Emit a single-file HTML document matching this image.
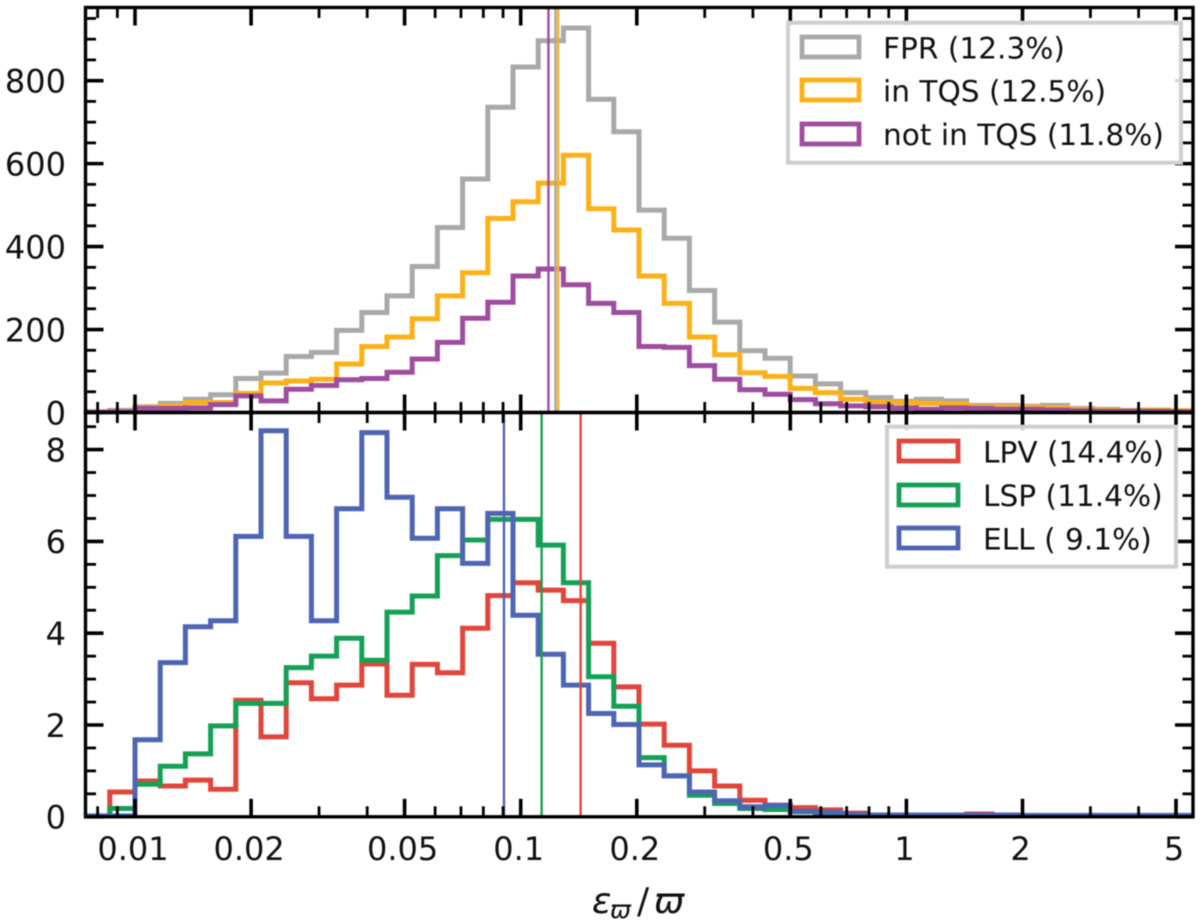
<!DOCTYPE html>
<html lang="en">
<head>
<meta charset="utf-8">
<title>Parallax error histograms</title>
<style>
html,body{margin:0;padding:0;background:#fff;width:1200px;height:924px;overflow:hidden}
svg{display:block;filter:blur(.5px)}
text{font-family:"DejaVu Sans","Liberation Sans",sans-serif;fill:#111;white-space:pre}
</style>
</head>
<body>
<svg id="chart" xmlns="http://www.w3.org/2000/svg" width="1200" height="924" viewBox="0 0 1200 924"></svg>
<script>
// ---- data ----
const fprCounts = [2,5,14,22,32,43,82,95,135,145,198,241,281,352,446,563,736,833,896,927,755,677,488,420,294,218,149,131,88,69,48,36,27,32,28,17,17,15,17,10,8,5,6,4];
const inTqsCounts = [1,2,12,16,24,24,46,71,76,80,117,159,182,226,281,337,468,508,553,620,491,440,329,263,182,139,96,87,58,48,32,25,24,22,21,14,14,13,11,8,6,4,6,4];
const notInTqsCounts = [1,2,10,10,11,19,40,28,56,65,79,82,97,129,169,227,266,329,346,308,263,241,159,157,113,80,55,44,31,21,16,14,11,8,11,10,8,8,6,4,3,3,3,2];
const lpvDensity = [0,0.54,0.78,0.67,0.80,0.60,2.54,1.74,2.92,2.57,2.87,3.33,2.65,3.32,3.14,4.11,4.82,5.10,4.94,4.71,3.78,2.83,2.02,1.56,1.00,0.67,0.36,0.25,0.20,0.15,0.08,0.04,0.03,0.03,0.03,0.06,0.01,0.01,0.01,0.01,0.01,0.01,0.01,0.01];
const lspDensity = [0,0.18,0.71,1.10,1.37,1.98,2.47,2.47,3.25,3.50,3.89,3.41,4.46,4.81,5.69,6.03,6.48,6.48,5.92,5.10,3.05,2.41,1.29,0.89,0.47,0.29,0.18,0.16,0.11,0.07,0.04,0.03,0.02,0.02,0.02,0.01,0.01,0.01,0.01,0.01,0.01,0.01,0.01,0.01];
const ellDensity = [0.02,0.02,1.68,3.36,4.14,4.27,6.11,8.41,6.11,4.27,6.71,8.37,6.96,6.07,6.71,5.52,6.61,4.39,3.54,2.87,2.25,2.01,1.13,0.89,0.54,0.35,0.22,0.25,0.12,0.10,0.05,0.04,0.04,0.04,0.04,0.04,0.04,0.03,0.03,0.03,0.03,0.03,0.03,0.03];
const topMedians = [0.123,0.125,0.118];
const bottomMedians = [0.143,0.1133,0.0905];
const xMajorTicks = [0.01,0.02,0.05,0.1,0.2,0.5,1,2,5];
const xMajorLabels = ["0.01","0.02","0.05","0.1","0.2","0.5","1","2","5"];
const xMinorTicks = [0.008,0.009,0.03,0.04,0.06,0.07,0.08,0.09,0.3,0.4,0.6,0.7,0.8,0.9,3,4];
const topYMajor = [0,200,400,600,800];
const topYMinor = [50,100,150,250,300,350,450,500,550,650,700,750,850,900,950];
const bottomYMajor = [0,2,4,6,8];
const bottomYMinor = [0.5,1,1.5,2.5,3,3.5,4.5,5,5.5,6.5,7,7.5,8.5];
const topLegendLabels = ["FPR (12.3%)","in TQS (12.5%)","not in TQS (11.8%)"];
const bottomLegendLabels = ["LPV (14.4%)","LSP (11.4%)","ELL ( 9.1%)"];

// ---- layout ----
const svg = document.getElementById('chart');
const NS = 'http://www.w3.org/2000/svg';
const L = 85.5, R = 1193, T = 7.5, M = 412.5, B = 816.8;
const GREY = '#a9a9a9', ORANGE = '#fbb117', PURPLE = '#9f4d9f', RED = '#e2453a', GREEN = '#15a155', BLUE = '#4e65b3';
function xs(v){ return 135 + 385.7 * Math.log10(v / 0.01); }
function yTop(v){ return M - v * 0.4148; }
function yBot(v){ return B - v * 45.9; }
function binEdge(n){ return Math.pow(10, -2 + (n - 2) * 0.06534); }
function make(tag, attrs, parent){
  const e = document.createElementNS(NS, tag);
  for (const k in attrs) e.setAttribute(k, attrs[k]);
  (parent || svg).appendChild(e);
  return e;
}
function stepPath(vals, y){
  let d = 'M' + xs(binEdge(0)).toFixed(1) + ' ' + y(0).toFixed(1);
  vals.forEach(function(v, i){
    d += 'L' + xs(binEdge(i)).toFixed(1) + ' ' + y(v).toFixed(1);
    d += 'L' + xs(binEdge(i + 1)).toFixed(1) + ' ' + y(v).toFixed(1);
  });
  d += 'L' + xs(binEdge(vals.length)).toFixed(1) + ' ' + y(0).toFixed(1);
  return d;
}

const defs = make('defs', {});
const clipT = make('clipPath', {id:'clip-top'}, defs);
make('rect', {x:L, y:T, width:R-L, height:M-T}, clipT);
const clipB = make('clipPath', {id:'clip-bottom'}, defs);
make('rect', {x:L, y:M, width:R-L, height:B-M}, clipB);

// ---- series ----
function drawHist(vals, y, color, clip, name){
  const p = make('path', {d:stepPath(vals, y), fill:'none', stroke:color, 'stroke-width':5, 'stroke-linejoin':'miter', 'clip-path':'url(#'+clip+')'});
  
  
}
function drawMedian(v, y0, y1, color, clip, name){
  const l = make('line', {x1:xs(v), x2:xs(v), y1:y0, y2:y1, stroke:color, 'stroke-width':2.4, 'clip-path':'url(#'+clip+')'});
  
  
}
drawHist(fprCounts, yTop, GREY, 'clip-top', 'fpr-histogram');
drawHist(inTqsCounts, yTop, ORANGE, 'clip-top', 'in-tqs-histogram');
drawHist(notInTqsCounts, yTop, PURPLE, 'clip-top', 'not-in-tqs-histogram');
drawMedian(topMedians[0], T, M, GREY, 'clip-top', 'fpr-median-line');
drawMedian(topMedians[1], T, M, ORANGE, 'clip-top', 'in-tqs-median-line');
drawMedian(topMedians[2], T, M, PURPLE, 'clip-top', 'not-in-tqs-median-line');
drawHist(lpvDensity, yBot, RED, 'clip-bottom', 'lpv-histogram');
drawHist(lspDensity, yBot, GREEN, 'clip-bottom', 'lsp-histogram');
drawHist(ellDensity, yBot, BLUE, 'clip-bottom', 'ell-histogram');
drawMedian(bottomMedians[0], M, B, RED, 'clip-bottom', 'lpv-median-line');
drawMedian(bottomMedians[1], M, B, GREEN, 'clip-bottom', 'lsp-median-line');
drawMedian(bottomMedians[2], M, B, BLUE, 'clip-bottom', 'ell-median-line');

// ---- ticks ----
function tickLine(x1, y1, x2, y2, w, name){
  const t = make('line', {x1:x1, y1:y1, x2:x2, y2:y2, stroke:'#000', 'stroke-width':w});
  
  
}
const MAJ = 18, MIN = 10.5;
[[T,M],[M,B]].forEach(function(pair){
  xMajorTicks.forEach(function(v){
    tickLine(xs(v), pair[0], xs(v), pair[0]+MAJ, 3.6, 'x-major-tick');
    tickLine(xs(v), pair[1], xs(v), pair[1]-MAJ, 3.6, 'x-major-tick');
  });
  xMinorTicks.forEach(function(v){
    tickLine(xs(v), pair[0], xs(v), pair[0]+MIN, 2.8, 'x-minor-tick');
    tickLine(xs(v), pair[1], xs(v), pair[1]-MIN, 2.8, 'x-minor-tick');
  });
});
function yTicks(major, minor, y){
  major.forEach(function(v){
    tickLine(L, y(v), L+MAJ, y(v), 3.6, 'y-major-tick');
    tickLine(R, y(v), R-MAJ, y(v), 3.6, 'y-major-tick');
  });
  minor.forEach(function(v){
    tickLine(L, y(v), L+MIN, y(v), 2.8, 'y-minor-tick');
    tickLine(R, y(v), R-MIN, y(v), 2.8, 'y-minor-tick');
  });
}
yTicks(topYMajor, topYMinor, yTop);
yTicks(bottomYMajor, bottomYMinor, yBot);

// ---- spines ----
const frameTop = make('rect', {x:L, y:T, width:R-L, height:M-T, fill:'none', stroke:'#000', 'stroke-width':3.4});


const frameBot = make('rect', {x:L, y:M, width:R-L, height:B-M, fill:'none', stroke:'#000', 'stroke-width':3.4});



// ---- tick labels ----
function label(txt, x, y, anchor, size, name){
  const t = make('text', {x:x, y:y, 'text-anchor':anchor, 'font-size':size});
  t.textContent = txt;
  
  
  return t;
}
topYMajor.forEach(function(v){
  label(String(v), 66, yTop(v) + 11.8, 'end', 32, 'top-y-tick-label');
});
bottomYMajor.forEach(function(v){
  label(String(v), 66, yBot(v) + 11.8, 'end', 32, 'bottom-y-tick-label');
});
xMajorTicks.forEach(function(v, i){
  label(xMajorLabels[i], xs(v) - 2, 860, 'middle', 32, 'x-tick-label');
});

// ---- legends ----
function legend(box, patches, colors, labels, baselines, tx, name){
  const g = make('g', {});
  
  
  make('rect', {x:box[0], y:box[1], width:box[2], height:box[3], fill:'#fff', 'fill-opacity':0.85, stroke:'#cfcfcf', 'stroke-width':4}, g);
  labels.forEach(function(txt, i){
    make('rect', {x:patches[0], y:patches[1+i], width:patches[4], height:patches[5], fill:'none', stroke:colors[i], 'stroke-width':4.8}, g);
    const t = make('text', {x:tx, y:baselines[i], 'font-size':29.6}, g);
    t.textContent = txt;
    
    
  });
}
legend([788,22.7,393,140], [802,37,80,124,57,20], [GREY,ORANGE,PURPLE], topLegendLabels, [58.3,101.7,145], 883, 'top-legend');
legend([887,426.7,289,140], [899,441,485,528,59,20], [RED,GREEN,BLUE], bottomLegendLabels, [462.7,506,549.3], 983, 'bottom-legend');

// ---- x axis title ----
const xt = make('text', {x:592, y:913, 'font-size':36, 'font-style':'italic'});


const s1 = make('tspan', {}, xt); s1.textContent = 'ε';
const s2 = make('tspan', {'font-size':25, x:610, dy:5}, xt); s2.textContent = 'ϖ';
const s3 = make('tspan', {x:637, dy:-5, 'font-style':'normal'}, xt); s3.textContent = '/';
const s4 = make('tspan', {x:654}, xt); s4.textContent = 'ϖ';
</script>
</body>
</html>
